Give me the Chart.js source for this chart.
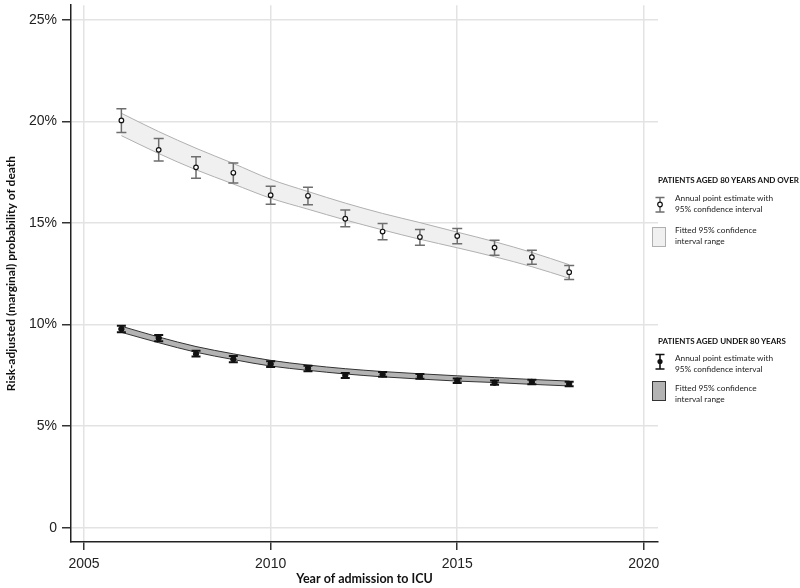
<!DOCTYPE html>
<html>
<head>
<meta charset="utf-8">
<script src="https://cdn.jsdelivr.net/npm/chart.js@4"></script>
<style>
  html, body { margin: 0; padding: 0; background: #fff; }
  #wrap { position: relative; width: 800px; height: 588px; }
  .lt { position: absolute; left: 658px; font: bold 8px Lato, sans-serif; color: #111; white-space: nowrap; line-height: 10px; }
  .lx { position: absolute; left: 675px; font: 8.3px Lato, sans-serif; color: #222; white-space: nowrap; line-height: 11px; }
  .ic { position: absolute; }
</style>
</head>
<body>
<div id="wrap">
  <canvas id="chart" width="800" height="588"></canvas>

  <div class="lt" style="top:175px">PATIENTS AGED 80 YEARS AND OVER</div>
  <svg class="ic" style="left:654px;top:196px" width="12" height="18">
    <path d="M1.5 1.5H10.5M6 1.5V16M1.5 16H10.5" stroke="#6e6e6e" stroke-width="1.5" fill="none"/>
    <circle cx="6" cy="8.5" r="2.3" fill="#fff" stroke="#111" stroke-width="1.2"/>
  </svg>
  <div class="lx" style="top:192.5px">Annual point estimate with<br>95% confidence interval</div>
  <svg class="ic" style="left:652px;top:227px" width="15" height="21">
    <rect x="0.5" y="0.5" width="13" height="19" fill="#f0f0f0" stroke="#b0b0b0"/>
  </svg>
  <div class="lx" style="top:224.5px">Fitted 95% confidence<br>interval range</div>

  <div class="lt" style="top:336px">PATIENTS AGED UNDER 80 YEARS</div>
  <svg class="ic" style="left:654px;top:353px" width="12" height="18">
    <path d="M1.5 1.5H10.5M6 1.5V16M1.5 16H10.5" stroke="#111" stroke-width="1.6" fill="none"/>
    <circle cx="6" cy="8.5" r="2.6" fill="#111"/>
  </svg>
  <div class="lx" style="top:352.5px">Annual point estimate with<br>95% confidence interval</div>
  <svg class="ic" style="left:652px;top:381px" width="15" height="21">
    <rect x="0.5" y="0.5" width="13" height="19" fill="#b3b3b3" stroke="#333"/>
  </svg>
  <div class="lx" style="top:382.5px">Fitted 95% confidence<br>interval range</div>
</div>

<script>
// ---- data ----
const years = [2006, 2007, 2008, 2009, 2010, 2011, 2012, 2013, 2014, 2015, 2016, 2017, 2018];

// patients aged 80 years and over
const oldEst = [20.05, 18.60, 17.74, 17.47, 16.37, 16.34, 15.21, 14.58, 14.31, 14.36, 13.79, 13.32, 12.58];
const oldLo  = [19.45, 18.05, 17.20, 16.97, 15.92, 15.90, 14.81, 14.17, 13.90, 13.98, 13.41, 12.97, 12.22];
const oldHi  = [20.62, 19.16, 18.26, 17.95, 16.81, 16.76, 15.64, 14.97, 14.68, 14.73, 14.15, 13.66, 12.91];
const oldFitLo = [19.30, 18.42, 17.62, 16.92, 16.22, 15.68, 15.15, 14.66, 14.20, 13.78, 13.34, 12.85, 12.28];
const oldFitHi = [20.40, 19.50, 18.68, 17.93, 17.15, 16.55, 15.98, 15.47, 15.02, 14.55, 14.08, 13.55, 12.95];

// patients aged under 80 years
const youngEst = [9.78, 9.34, 8.56, 8.30, 8.06, 7.85, 7.50, 7.55, 7.45, 7.24, 7.14, 7.18, 7.08];
const youngLo  = [9.62, 9.18, 8.43, 8.15, 7.91, 7.71, 7.37, 7.43, 7.33, 7.13, 7.04, 7.07, 6.97];
const youngHi  = [9.94, 9.49, 8.71, 8.45, 8.19, 7.97, 7.62, 7.67, 7.57, 7.35, 7.25, 7.29, 7.19];
const youngFitLo = [9.62, 9.11, 8.64, 8.28, 7.96, 7.75, 7.57, 7.43, 7.32, 7.22, 7.15, 7.06, 6.98];
const youngFitHi = [9.92, 9.39, 8.92, 8.56, 8.24, 8.01, 7.83, 7.69, 7.58, 7.48, 7.39, 7.30, 7.22];

const xTicks = [2005, 2010, 2015, 2020];
const yTicks = [0, 5, 10, 15, 20, 25];
const yTickLabels = ['0', '5%', '10%', '15%', '20%', '25%'];

const pts = (vals) => years.map((yr, i) => ({ x: yr, y: vals[i] }));

// draws the annual 95% CI whiskers just under each point dataset
const errorBars = {
  id: 'errorBars',
  beforeDatasetDraw(chart, args) {
    const ds = chart.data.datasets[args.index];
    if (!ds.errLo) return;
    const { ctx, scales: { x, y } } = chart;
    ctx.save();
    ctx.strokeStyle = ds.errColor;
    ctx.lineWidth = ds.errWidth;
    years.forEach((yr, i) => {
      const px = x.getPixelForValue(yr);
      const top = y.getPixelForValue(ds.errHi[i]);
      const bot = y.getPixelForValue(ds.errLo[i]);
      ctx.beginPath();
      ctx.moveTo(px, top); ctx.lineTo(px, bot);
      ctx.moveTo(px - ds.errCap, top); ctx.lineTo(px + ds.errCap, top);
      ctx.moveTo(px - ds.errCap, bot); ctx.lineTo(px + ds.errCap, bot);
      ctx.stroke();
    });
    ctx.restore();
  },
};

const band = (vals, border) => ({
  data: pts(vals), showLine: true, pointRadius: 0, borderColor: border, borderWidth: 1,
  cubicInterpolationMode: 'monotone', fill: false,
});

const axisFont = { family: '"Liberation Sans", Arial, sans-serif', size: 14 };
const titleFont = { family: 'Lato, sans-serif', size: 12.5, weight: 'bold' };

new Chart(document.getElementById('chart'), {
  type: 'scatter',
  data: {
    datasets: [
      { data: pts(oldEst), pointRadius: 2.3, pointBackgroundColor: '#fff', pointBorderColor: '#111', pointBorderWidth: 1.2,
        errLo: oldLo, errHi: oldHi, errColor: '#6e6e6e', errWidth: 1.5, errCap: 5 },
      { data: pts(youngEst), pointRadius: 2.7, pointBackgroundColor: '#111', pointBorderColor: '#111', pointBorderWidth: 1,
        errLo: youngLo, errHi: youngHi, errColor: '#111', errWidth: 2, errCap: 4.5 },
      band(oldFitHi, '#b0b0b0'),
      Object.assign(band(oldFitLo, '#b0b0b0'), { fill: '-1', backgroundColor: '#f0f0f0' }),
      band(youngFitHi, '#333'),
      Object.assign(band(youngFitLo, '#333'), { fill: '-1', backgroundColor: '#b3b3b3' }),
    ],
  },
  options: {
    responsive: false,
    animation: false,
    layout: { padding: { left: 0, right: 142, top: 0, bottom: 0 } },
    plugins: { legend: { display: false }, tooltip: { enabled: false } },
    scales: {
      x: {
        type: 'linear', min: 2004.65, max: 2020.38,
        afterBuildTicks: (s) => { s.ticks = xTicks.map((v) => ({ value: v })); },
        afterFit: (s) => { s.height = 46; },
        ticks: { color: '#222', font: axisFont, padding: 6, maxRotation: 0, callback: (v) => String(v) },
        grid: { color: '#e3e3e3', lineWidth: 1.5, tickColor: '#333', tickLength: 8, tickWidth: 1.5 },
        border: { color: '#222', width: 1.5 },
        title: { display: true, text: 'Year of admission to ICU', color: '#111', font: titleFont, padding: { top: 0, bottom: 2 } },
      },
      y: {
        min: -0.70, max: 25.72,
        afterBuildTicks: (s) => { s.ticks = yTicks.map((v) => ({ value: v })); },
        afterFit: (s) => { s.width = 71; s.paddingTop = 0; s.paddingBottom = 0; },
        ticks: { color: '#222', font: axisFont, padding: 5, callback: (v, i) => yTickLabels[i] },
        grid: { color: '#e3e3e3', lineWidth: 1.5, tickColor: '#333', tickLength: 9, tickWidth: 1.5 },
        border: { color: '#222', width: 1.5 },
        title: { display: true, text: 'Risk-adjusted (marginal) probability of death', color: '#111',
          font: Object.assign({}, titleFont, { size: 12 }), padding: { top: 4, bottom: 0 } },
      },
    },
  },
  plugins: [errorBars],
});
</script>
</body>
</html>
